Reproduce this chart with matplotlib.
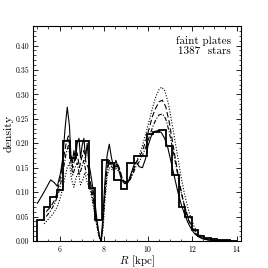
import numpy as np
import matplotlib
matplotlib.use("Agg")
from matplotlib import pyplot as plt
from matplotlib.ticker import MultipleLocator

plt.rcParams['font.family'] = 'serif'
plt.rcParams['font.serif'] = ['cmr10']
plt.rcParams['mathtext.fontset'] = 'cm'
plt.rcParams['axes.formatter.use_mathtext'] = True

# histogram, 31 bins from 5 to 14 kpc
bin_edges = np.linspace(5.0, 14.0, 32)
hist_vals = [0.043, 0.069, 0.089, 0.105, 0.205, 0.170, 0.205, 0.205, 0.108, 0.042,
             0.165, 0.160, 0.124, 0.107, 0.160, 0.173, 0.173, 0.218, 0.222, 0.228,
             0.194, 0.135, 0.070, 0.050, 0.022, 0.010, 0.005, 0.003, 0.002, 0.002, 0.0]

# solid curve
solid_R = [5.00, 5.30, 5.60, 5.75, 5.90, 6.05, 6.15, 6.25, 6.35, 6.45, 6.52, 6.58, 6.65,
           6.72, 6.80, 6.88, 6.95, 7.02, 7.10, 7.18, 7.25, 7.32, 7.40, 7.50, 7.60, 7.70,
           7.80, 7.87, 7.95, 8.05, 8.15, 8.25, 8.35, 8.45, 8.55, 8.65, 8.80, 8.95, 9.10,
           9.25, 9.40, 9.50, 9.60, 9.75, 9.90, 10.00, 10.15, 10.30, 10.45, 10.60, 10.75,
           10.90, 11.05, 11.20, 11.35, 11.50, 11.65, 11.80, 11.95, 12.10, 12.30, 12.50,
           12.80, 13.20, 13.70]
solid_d = [0.077, 0.100, 0.125, 0.120, 0.112, 0.140, 0.170, 0.230, 0.274, 0.235, 0.170,
           0.160, 0.185, 0.165, 0.200, 0.210, 0.170, 0.195, 0.210, 0.170, 0.200, 0.160,
           0.140, 0.110, 0.080, 0.040, 0.010, 0.000, 0.040, 0.120, 0.175, 0.198, 0.170,
           0.150, 0.165, 0.150, 0.125, 0.117, 0.120, 0.140, 0.160, 0.160, 0.152, 0.150,
           0.170, 0.195, 0.215, 0.224, 0.226, 0.222, 0.210, 0.190, 0.160, 0.130, 0.100,
           0.075, 0.055, 0.038, 0.025, 0.015, 0.008, 0.004, 0.002, 0.001, 0.0005]

# dashed curve
dash_R = [5.40, 5.60, 5.80, 6.00, 6.15, 6.30, 6.40, 6.50, 6.60, 6.70, 6.80, 6.90, 7.00,
          7.10, 7.20, 7.30, 7.40, 7.50, 7.60, 7.70, 7.80, 7.88, 7.95, 8.05, 8.15, 8.25,
          8.35, 8.50, 8.60, 8.70, 8.85, 9.00, 9.15, 9.30, 9.45, 9.60, 9.75, 9.90, 10.05,
          10.20, 10.35, 10.50, 10.65, 10.80, 10.95, 11.10, 11.25, 11.40, 11.55, 11.70,
          11.85, 12.00, 12.20, 12.40, 12.70, 13.20]
dash_d = [0.060, 0.070, 0.085, 0.120, 0.160, 0.200, 0.215, 0.180, 0.150, 0.170, 0.180,
          0.150, 0.170, 0.185, 0.160, 0.150, 0.120, 0.095, 0.065, 0.035, 0.010, 0.000,
          0.030, 0.100, 0.150, 0.165, 0.155, 0.150, 0.160, 0.150, 0.125, 0.120, 0.125,
          0.140, 0.160, 0.170, 0.185, 0.205, 0.230, 0.255, 0.272, 0.285, 0.288, 0.275,
          0.245, 0.205, 0.165, 0.125, 0.090, 0.062, 0.040, 0.025, 0.013, 0.006, 0.002,
          0.000]

# dash-dot curve
dd_R = [5.40, 5.60, 5.80, 6.00, 6.15, 6.30, 6.40, 6.50, 6.60, 6.70, 6.80, 6.90, 7.00,
        7.10, 7.20, 7.30, 7.40, 7.50, 7.60, 7.70, 7.80, 7.88, 7.95, 8.05, 8.15, 8.25,
        8.35, 8.50, 8.60, 8.70, 8.85, 9.00, 9.15, 9.30, 9.45, 9.60, 9.75, 9.90, 10.05,
        10.20, 10.35, 10.50, 10.65, 10.80, 10.95, 11.10, 11.25, 11.40, 11.55, 11.70,
        11.85, 12.00, 12.20, 12.40, 12.70, 13.20]
dd_d = [0.050, 0.062, 0.078, 0.105, 0.140, 0.180, 0.195, 0.165, 0.135, 0.150, 0.160,
        0.135, 0.150, 0.165, 0.140, 0.135, 0.110, 0.085, 0.058, 0.030, 0.008, 0.000,
        0.028, 0.095, 0.145, 0.160, 0.152, 0.145, 0.155, 0.148, 0.125, 0.118, 0.122,
        0.135, 0.152, 0.162, 0.175, 0.192, 0.212, 0.232, 0.248, 0.258, 0.260, 0.250,
        0.225, 0.192, 0.158, 0.122, 0.090, 0.064, 0.043, 0.028, 0.015, 0.007, 0.002,
        0.000]

# dotted curve
dot_R = [5.30, 5.50, 5.70, 5.90, 6.05, 6.20, 6.35, 6.45, 6.55, 6.65, 6.75, 6.85, 6.95,
         7.05, 7.15, 7.25, 7.35, 7.45, 7.55, 7.65, 7.75, 7.85, 7.90, 7.97, 8.05, 8.15,
         8.25, 8.40, 8.55, 8.70, 8.85, 9.00, 9.15, 9.30, 9.45, 9.60, 9.75, 9.90, 10.05,
         10.20, 10.35, 10.50, 10.62, 10.75, 10.90, 11.05, 11.20, 11.35, 11.50, 11.65,
         11.80, 11.95, 12.10, 12.30, 12.50, 12.80, 13.30]
dot_d = [0.035, 0.045, 0.055, 0.070, 0.090, 0.120, 0.150, 0.160, 0.125, 0.110, 0.130,
         0.140, 0.115, 0.125, 0.140, 0.120, 0.110, 0.090, 0.065, 0.040, 0.015, 0.002,
         0.000, 0.025, 0.080, 0.130, 0.150, 0.145, 0.150, 0.140, 0.125, 0.120, 0.125,
         0.140, 0.160, 0.175, 0.195, 0.220, 0.245, 0.272, 0.295, 0.310, 0.315, 0.308,
         0.285, 0.250, 0.210, 0.170, 0.130, 0.096, 0.068, 0.045, 0.028, 0.014, 0.006,
         0.002, 0.000]

fig = plt.figure(figsize=(2.68, 2.68), dpi=100)
ax = fig.add_axes([0.123, 0.101, 0.776, 0.802])

ax.stairs(hist_vals, bin_edges, color='black', linewidth=1.3)
ax.plot(solid_R, solid_d, color='black', linewidth=0.8, linestyle='-')
ax.plot(dash_R, dash_d, color='black', linewidth=0.8, linestyle=(0, (5, 2.5)))
ax.plot(dd_R, dd_d, color='black', linewidth=0.8, linestyle=(0, (4, 1.5, 1, 1.5)))
ax.plot(dot_R, dot_d, color='black', linewidth=0.8, linestyle=(0, (1, 1.5)))

ax.set_xlim(4.8, 14.2)
ax.set_ylim(0, 0.44)
ax.xaxis.set_major_locator(MultipleLocator(2))
ax.xaxis.set_minor_locator(MultipleLocator(0.5))
ax.yaxis.set_major_locator(MultipleLocator(0.05))
ax.yaxis.set_minor_locator(MultipleLocator(0.01))
ax.yaxis.set_major_formatter(matplotlib.ticker.FormatStrFormatter('%.2f'))
ax.tick_params(which='both', direction='in', top=True, right=True, labelsize=5.5, pad=2.5)
ax.tick_params(which='major', length=3.5, width=0.6)
ax.tick_params(which='minor', length=1.8, width=0.5)
for s in ax.spines.values():
    s.set_linewidth(0.8)

ax.set_xlabel('$R$ [kpc]', fontsize=8, labelpad=0)
ax.set_ylabel('density', fontsize=8.5, labelpad=1)
ax.yaxis.set_label_coords(-0.095, 0.5)
ax.xaxis.set_label_coords(0.5, -0.058)

ax.text(0.952, 0.955, 'faint plates\n1387  stars', transform=ax.transAxes,
        ha='right', va='top', fontsize=8, linespacing=1.1)

fig.savefig('out.png', dpi=100)
